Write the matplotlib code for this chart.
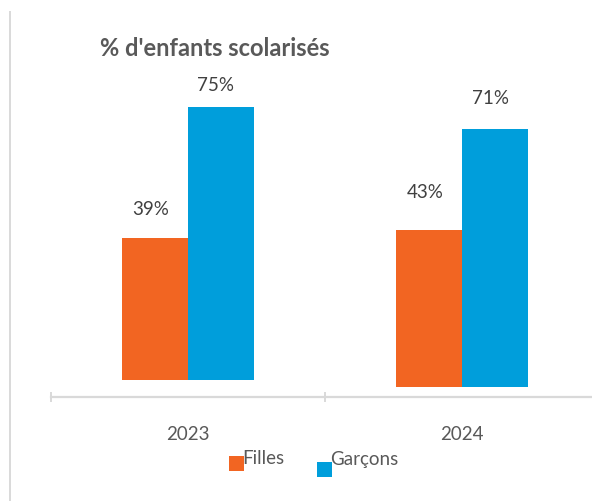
import matplotlib
matplotlib.use("Agg")
import matplotlib.pyplot as plt
from matplotlib.patches import Rectangle
from matplotlib.lines import Line2D

# Data
years = ["2023", "2024"]
series_names = ["Filles", "Garçons"]
filles = [39, 43]
garcons = [75, 71]
title = "% d'enfants scolarisés"

# Style
colors = ["#F26522", "#009EDB"]
axis_gray = "#D9D9D9"
text_gray = "#595959"
label_gray = "#404040"
plt.rcParams["font.family"] = ["Lato", "DejaVu Sans"]

W, H = 592, 502
fig = plt.figure(figsize=(W / 100, H / 100), dpi=100)

def fx(px):
    return px / W

def fy(py):
    return 1 - py / H

# axes: x from -0.5..1.5 spans px 51..599, y 0..100 spans 364 px above baseline at 398
ax = fig.add_axes([fx(51), fy(398), (599 - 51) / W, 364 / H])
ax.set_xlim(-0.5, 1.5)
ax.set_ylim(0, 100)

bar_w = 0.241
group_base = [4.67, 2.75]   # each group's bars sit slightly above the axis line
positions = range(len(years))
series = [filles, garcons]
label_shift = [[(-4, 30), (-4, 39)], [(-6, 23), (-5, 31)]]  # pixel offsets of value labels

for s, (vals, col) in enumerate(zip(series, colors)):
    for i, v in zip(positions, vals):
        x = i + (s - 0.5) * bar_w
        ax.bar(x, v, width=bar_w, bottom=group_base[i], color=col, linewidth=0)
        dx, dy = label_shift[s][i]
        ax.annotate(f"{v}%", xy=(x, group_base[i] + v), xytext=(dx, dy),
                    textcoords="offset pixels", ha="center", va="center",
                    fontsize=13.5, color=label_gray)

for side in ["top", "right", "left"]:
    ax.spines[side].set_visible(False)
ax.spines["bottom"].set_color(axis_gray)
ax.spines["bottom"].set_linewidth(1.6)
ax.set_yticks([])
ax.set_xticks([-0.5, 0.5, 1.5])
ax.set_xticklabels([])
ax.tick_params(axis="x", which="major", direction="inout", length=7,
               width=1.4, color=axis_gray)
ax.set_xticks(list(positions), minor=True)
ax.set_xticklabels(years, minor=True, fontsize=13.5, color=text_gray)
ax.tick_params(axis="x", which="minor", length=0, pad=20)
ax.patch.set_alpha(0)

# Title
fig.text(fx(100), fy(49), title, ha="left", va="center", fontsize=17,
         fontweight="bold", color=text_gray)

# Legend
legend_boxes = [(229, 457), (317, 463)]
legend_text = [(242, 459), (330, 460)]
for name, col, (bx, by), (tx, ty) in zip(series_names, colors, legend_boxes, legend_text):
    fig.patches.append(Rectangle((fx(bx), fy(by + 15)), 15 / W, 15 / H,
                                 transform=fig.transFigure, color=col, linewidth=0))
    fig.text(fx(tx), fy(ty), name, ha="left", va="center", fontsize=13.5,
             color=text_gray)

# Left frame line
fig.add_artist(Line2D([fx(10), fx(10)], [fy(13), 0], transform=fig.transFigure,
                      color=axis_gray, linewidth=1.4))

fig.savefig("out.png", dpi=100)
